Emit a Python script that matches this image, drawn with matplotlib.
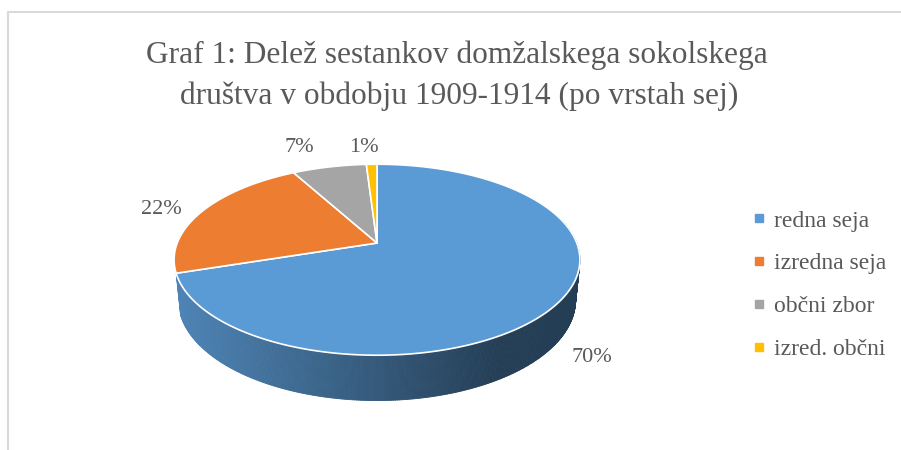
import numpy as np
import matplotlib
matplotlib.use("Agg")
import matplotlib.pyplot as plt
from matplotlib.collections import PolyCollection
from matplotlib.patches import Polygon
from matplotlib.lines import Line2D

# ---- data ----
categories = ["redna seja", "izredna seja", "občni zbor", "izred. občni"]
values = [70, 22, 7, 1]
value_labels = ["70%", "22%", "7%", "1%"]
colors = ["#5B9BD5", "#ED7D31", "#A5A5A5", "#FFC000"]
title_lines = ["Graf 1: Delež sestankov domžalskega sokolskega",
               "društva v obdobju 1909-1914 (po vrstah sej)"]

# ---- layout ----
W, H = 901, 450
CX, CY = 377, 243          # projected pie centre (pixels)
F = 1010.0                 # focal length
ELEV = np.radians(27.6)
S, C = np.sin(ELEV), np.cos(ELEV)
D = 5.056
THICK = 0.23
label_pos = [(592, 357), (161, 210), (299, 148), (364, 148)]
TXT = "#595959"
FONT = "Liberation Serif"

fig = plt.figure(figsize=(W / 100, H / 100), dpi=100)
ax = fig.add_axes([0, 0, 1, 1])
ax.set_xlim(0, W)
ax.set_ylim(H, 0)
ax.axis("off")

# chart area border
ax.plot([8, 8, W + 5], [H + 5, 12, 12], color="#d9d9d9", lw=1.5, solid_capstyle="butt")


def proj(theta_deg, h=0.0):
    th = np.radians(theta_deg)
    u = np.sin(th)
    v = -np.cos(th)
    xc = u
    yc = -v * S + h * C
    zc = D - v * C - h * S
    return CX + F * xc / zc, CY - F * yc / zc


total = float(sum(values))
bounds = np.concatenate([[0], np.cumsum(values)]) / total * 360.0


def shade(base, x):
    # lighter on left, darker on right
    f = np.interp(x, [173, 500, 600], [0.86, 0.40, 0.40])
    r, g, b = matplotlib.colors.to_rgb(base)
    return (r * f, g * f, b * f)


# side wall (front part of the first slice), drawn back to front
step = 0.5
side_polys, side_cols, depth = [], [], []
for th in np.arange(75, bounds[1], step):
    t2 = min(th + step, bounds[1])
    x1, y1 = proj(th)
    x2, y2 = proj(t2)
    x3, y3 = proj(t2, -THICK)
    x4, y4 = proj(th, -THICK)
    side_polys.append([(x1, y1), (x2, y2), (x3, y3), (x4, y4)])
    side_cols.append(shade(colors[0], (x1 + x2) / 2))
    depth.append(-np.cos(np.radians((th + t2) / 2)))
order = np.argsort(depth)
pc = PolyCollection([side_polys[i] for i in order],
                    facecolors=[side_cols[i] for i in order],
                    edgecolors=[side_cols[i] for i in order],
                    linewidths=0.6, zorder=2)
ax.add_collection(pc)

# top face slices
for i in range(len(values)):
    ths = np.linspace(bounds[i], bounds[i + 1], max(3, int((bounds[i + 1] - bounds[i]) * 2)))
    pts = [(CX, CY)] + [proj(t) for t in ths]
    ax.add_patch(Polygon(pts, closed=True, facecolor=colors[i], edgecolor="white",
                         lw=1.2, joinstyle="round", zorder=3))

# data labels
for lab, (lx, ly) in zip(value_labels, label_pos):
    ax.text(lx, ly, lab, ha="center", va="center", fontsize=16, color=TXT,
            family=FONT, zorder=5)

# title
ax.text(457, 63, title_lines[0], ha="center", va="baseline", fontsize=22.6,
        color=TXT, family=FONT)
ax.text(459, 104, title_lines[1], ha="center", va="baseline", fontsize=22.6,
        color=TXT, family=FONT)

# legend
handles = [Line2D([], [], marker="s", ls="", color=c, markersize=5.5) for c in colors]
leg = ax.legend(handles, categories, loc="center left",
                bbox_to_anchor=(752 / W, 1 - 285 / H), frameon=False,
                prop={"family": FONT, "size": 17}, labelcolor=TXT,
                handlelength=0.6, handletextpad=0.35, labelspacing=0.9,
                borderpad=0, borderaxespad=0)

fig.savefig("out.png", dpi=100)
